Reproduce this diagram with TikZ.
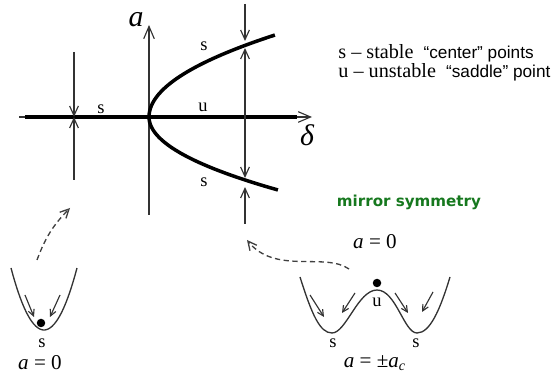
\documentclass[tikz,border=0pt]{standalone}
\usepackage{fontspec}
\setmainfont{Liberation Serif}
\setsansfont{Liberation Sans}
\newfontfamily\mirrorfont{DejaVu Sans}
\usetikzlibrary{positioning,calc,arrows.meta}
\definecolor{mirrorgreen}{RGB}{22,120,30}
\tikzset{
  semithick,
  flow/.style = {draw=black!80, line width=0.65pt,
   -{Straight Barb[length=5.5pt,width=5pt]}},
  axis/.style = {draw=black!80, line width=0.65pt,
   -{Straight Barb[length=7pt,width=6pt]}},
  branch/.style = {line width=2pt, black},
  well/.style = {draw=black!80, line width=0.75pt},
  slide/.style = {draw=black!80, line width=0.65pt,
   -{Straight Barb[length=3.5pt,width=3.5pt]}},
  hop/.style = {draw=black!75, line width=0.75pt, dash pattern=on 3pt off 2pt,
   -{Straight Barb[length=5pt,width=5pt]}},
  lbl/.style = {inner sep=0pt, font=\fontsize{10.5}{12}\selectfont},
  big/.style = {inner sep=0pt, font=\fontsize{17}{18}\selectfont\itshape},
  eq/.style = {inner sep=0pt, font=\fontsize{12}{13}\selectfont},
  ball/.style = {circle, fill=black, inner sep=0pt, minimum size=0.17cm},
}
\begin{document}
\begin{tikzpicture}[x=0.02cm, y=-0.02cm]
  \useasboundingbox (0,0) rectangle (554,374);

  % axes
  \coordinate (dL) at (19,117);
  \coordinate (dR) at (312,117);
  \coordinate (aB) at (149,215);
  \coordinate (aT) at (149,25);
  \draw[axis] (dL) -- (dR);
  \draw[branch] (25,117) -- (297,117);
  \draw[axis] (aB) -- (aT);
  \node (lblA) [big] at (136,20) {a};
  \node (lblDelta) [big] at (307,135) {δ};

  % branches of fixed points
  \draw[branch] plot[domain=0:1, smooth, samples=30, variable=\t]
    ({149+126*\t*\t},{117-82*\t});
  \draw[branch] plot[domain=0:1, smooth, samples=30, variable=\t]
    ({149+129*\t*\t},{117+73*\t});

  % flow arrows
  \coordinate (L1) at (74,52);
  \coordinate (L0) at (74,117);
  \coordinate (L2) at (74,180);
  \draw[flow] (L1) -- (L0);
  \draw[flow] (L2) -- (L0);
  \coordinate (R1) at (245,4);
  \coordinate (Rup) at (245,41);
  \coordinate (Rup2) at (245,48);
  \coordinate (R0) at (245,117);
  \coordinate (Rlo) at (245,178);
  \coordinate (Rlo2) at (245,187);
  \coordinate (R2) at (245,224);
  \draw[flow] (R1) -- (Rup);
  \draw[flow] (R0) -- (Rup2);
  \draw[flow] (R0) -- (Rlo);
  \draw[flow] (R2) -- (Rlo2);

  \node (sAxis) [lbl] at (101,109) {s};
  \node (uAxis) [lbl] at (203,107) {u};
  \node (sUp) [lbl] at (204,46) {s};
  \node (sLo) [lbl] at (204,182) {s};

  % legend
  \node (legS) [anchor=west, inner sep=0pt] at (338,53)
    {\fontsize{11.5}{13}\selectfont s -- stable\ \ {\sffamily\fontsize{9.8}{12}\selectfont “center” points}};
  \node (legU) [anchor=west, inner sep=0pt] at (338,72)
    {\fontsize{11.5}{13}\selectfont u -- unstable\ \ {\sffamily\fontsize{9.8}{12}\selectfont “saddle” point}};

  % single well
  \draw[well] plot[domain=-1:1, smooth, samples=30, variable=\t]
    ({44+33*\t},{330-62*\t*\t});
  \node (ballS) [ball] at (41,323) {};
  \coordinate (sw1) at (25,295);
  \coordinate (sw2) at (34,317);
  \coordinate (sw3) at (60,295);
  \coordinate (sw4) at (50,317);
  \draw[slide] (sw1) -- (sw2);
  \draw[slide] (sw3) -- (sw4);
  \node (sWell) [lbl] at (42,343) {s};
  \node (eqLeft) [eq] at (40,363) {\textit{a} = 0};
  \coordinate (hopA) at (37,260);
  \coordinate (hopB) at (70,208);
  \draw[hop] (hopA) to[bend left=12] (hopB);

  % double well
  \node (mirror) [inner sep=0pt, text=mirrorgreen,
    font=\mirrorfont\bfseries\fontsize{8.6}{10}\selectfont] at (409,202) {mirror symmetry};
  \node (eqTop) [eq] at (375,242) {\textit{a} = 0};
  \draw[well] (300,277) .. controls (312,315) and (320,333) .. (332,333)
    .. controls (346,333) and (358,290) .. (377,290)
    .. controls (396,290) and (404,333) .. (417,333)
    .. controls (430,333) and (440,310) .. (450,277);
  \node (ballU) [ball] at (377,283) {};
  \node (uWell) [lbl] at (377,302) {u};
  \node (sWellL) [lbl] at (333,343) {s};
  \node (sWellR) [lbl] at (416,343) {s};
  \node (eqBot) [eq] at (375,363) {\textit{a} = ±\textit{a}\textsubscript{\textit{c}}};
  \coordinate (dw1) at (310,295);
  \coordinate (dw2) at (324,317);
  \coordinate (dw3) at (355,293);
  \coordinate (dw4) at (342,313);
  \coordinate (dw5) at (395,293);
  \coordinate (dw6) at (408,313);
  \coordinate (dw7) at (433,292);
  \coordinate (dw8) at (422,312);
  \draw[slide] (dw1) -- (dw2);
  \draw[slide] (dw3) -- (dw4);
  \draw[slide] (dw5) -- (dw6);
  \draw[slide] (dw7) -- (dw8);
  \coordinate (hopC) at (349,269);
  \coordinate (hopD) at (247,240);
  \draw[hop] (hopC) .. controls (325,252) and (275,275) .. (hopD);
\end{tikzpicture}
\end{document}
